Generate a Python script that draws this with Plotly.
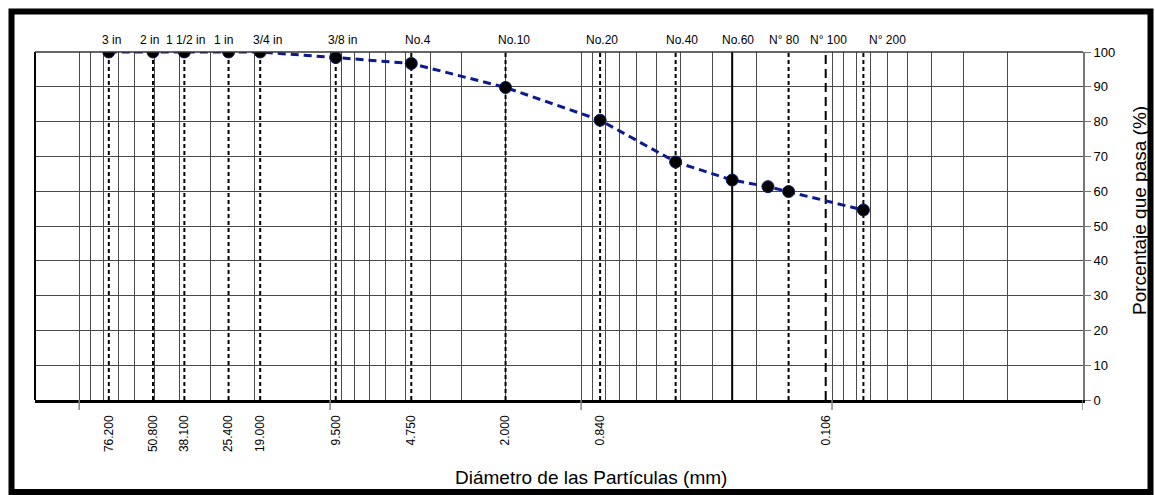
import math
import plotly.graph_objects as go

# ---------------- data ----------------
diameter_mm = [76.2, 50.8, 38.1, 25.4, 19.0, 9.5, 4.75, 2.0, 0.84, 0.42, 0.25, 0.18, 0.149, 0.075]
percent_passing = [100, 100, 100, 100, 100, 98.4, 96.7, 89.8, 80.4, 68.4, 63.2, 61.3, 59.9, 54.6]

sieve_names = ["3 in", "2 in", "1 1/2 in", "1 in", "3/4 in", "3/8 in", "No.4", "No.10",
               "No.20", "No.40", "No.60", "N° 80", "N° 100", "N° 200"]
sieve_mm = [76.2, 50.8, 38.1, 25.4, 19.0, 9.5, 4.75, 2.0, 0.84, 0.42, 0.25, 0.149, 0.106, 0.075]

tick_vals = [76.2, 50.8, 38.1, 25.4, 19.0, 9.5, 4.75, 2.0, 0.84, 0.106]
tick_text = ["76.200", "50.800", "38.100", "25.400", "19.000", "9.500", "4.750", "2.000", "0.840", "0.106"]

decades = [100, 10, 1, 0.1, 0.01]

# ---------------- style ----------------
sieve_dash = ["4px,3px"] * 10 + ["solid", "4px,3px", "9px,5px", "4px,3px"]
label_dx = [3, -4, 1, -5, 7, 7, 7, 8, 2, 6, 6, -5, 3, 24]
FONT = "Liberation Sans, Arial, sans-serif"

x_range = [math.log10(150), math.log10(0.01)]
grid_vals = [m * 10 ** k for k in range(-2, 3) for m in range(1, 10) if 0.01 <= m * 10 ** k <= 150]

fig = go.Figure()

# sieve vertical lines (base x axis)
for s, d in zip(sieve_mm, sieve_dash):
    fig.add_trace(go.Scatter(x=[s, s], y=[0, 100], mode="lines",
                             line=dict(color="black", width=2, dash=d),
                             hoverinfo="skip", showlegend=False, xaxis="x", yaxis="y"))

# grading curve (overlay axis with the labelled ticks)
fig.add_trace(go.Scatter(x=diameter_mm, y=percent_passing, mode="lines+markers",
                         line=dict(color="#0d1a8f", width=3, dash="8px,5px"),
                         marker=dict(color="black", size=12, line=dict(color="#0d1a5f", width=1)),
                         showlegend=False, xaxis="x2", yaxis="y"))

fig.update_layout(
    width=1155, height=495,
    margin=dict(l=35, r=72, t=52, b=95),
    paper_bgcolor="white", plot_bgcolor="white",
    font=dict(family=FONT, color="black"),
    xaxis=dict(type="log", range=x_range, autorange=False,
               tickvals=grid_vals, showticklabels=False, ticks="",
               showgrid=True, gridcolor="#4a4a4a", gridwidth=1,
               showline=True, linecolor="black", linewidth=2.5, zeroline=False),
    xaxis2=dict(type="log", range=x_range, autorange=False, overlaying="x", anchor="y", side="bottom",
                tickvals=tick_vals, ticktext=tick_text, tickangle=-90, ticks="",
                ticklabelstandoff=12, tickfont=dict(size=12, family=FONT, color="black"),
                showgrid=False, showline=False, zeroline=False),
    yaxis=dict(range=[0, 100], autorange=False, dtick=10, side="right",
               showgrid=True, gridcolor="#4a4a4a", gridwidth=1,
               ticks="outside", ticklen=6, tickcolor="#777",
               showline=True, linecolor="#777", linewidth=2, zeroline=False,
               tickfont=dict(size=13, family=FONT, color="black")),
)

shapes = []
# decade tick marks below the x axis
for d in decades:
    shapes.append(dict(type="line", xref="x", yref="paper",
                       x0=d, x1=d, y0=0, y1=-10 / 348,
                       line=dict(color="#888", width=1.5)))
# left and top borders of the plot area
shapes.append(dict(type="line", xref="paper", yref="paper", x0=0, x1=0, y0=0, y1=1,
                   line=dict(color="black", width=2)))
shapes.append(dict(type="line", xref="paper", yref="paper", x0=0, x1=1, y0=1, y1=1,
                   line=dict(color="#333", width=1.5)))
# outer frame
shapes.append(dict(type="rect", xref="paper", yref="paper",
                   x0=(11.5 - 35) / 1048, x1=(1150.5 - 35) / 1048,
                   y0=(400 - 492) / 348, y1=(400 - 11.5) / 348,
                   line=dict(color="black", width=6)))
fig.update_layout(shapes=shapes)

annotations = []
for name, s, dx in zip(sieve_names, sieve_mm, label_dx):
    annotations.append(dict(x=math.log10(s), xref="x", y=1, yref="paper",
                            text=name, showarrow=False, xanchor="center", yanchor="bottom",
                            xshift=dx, yshift=3, font=dict(size=12, family=FONT, color="black")))
annotations.append(dict(x=(591 - 35) / 1048, y=(400 - 477) / 348, xref="paper", yref="paper",
                        text="Diámetro de las Partículas (mm)", showarrow=False,
                        xanchor="center", yanchor="middle", font=dict(size=19, family=FONT, color="black")))
annotations.append(dict(x=(1139 - 35) / 1048, y=(400 - 211) / 348, xref="paper", yref="paper",
                        text="Porcentaje que pasa (%)", showarrow=False, textangle=-90,
                        xanchor="center", yanchor="middle", font=dict(size=19, family=FONT, color="black")))
fig.update_layout(annotations=annotations)

fig.write_html("out.html")
